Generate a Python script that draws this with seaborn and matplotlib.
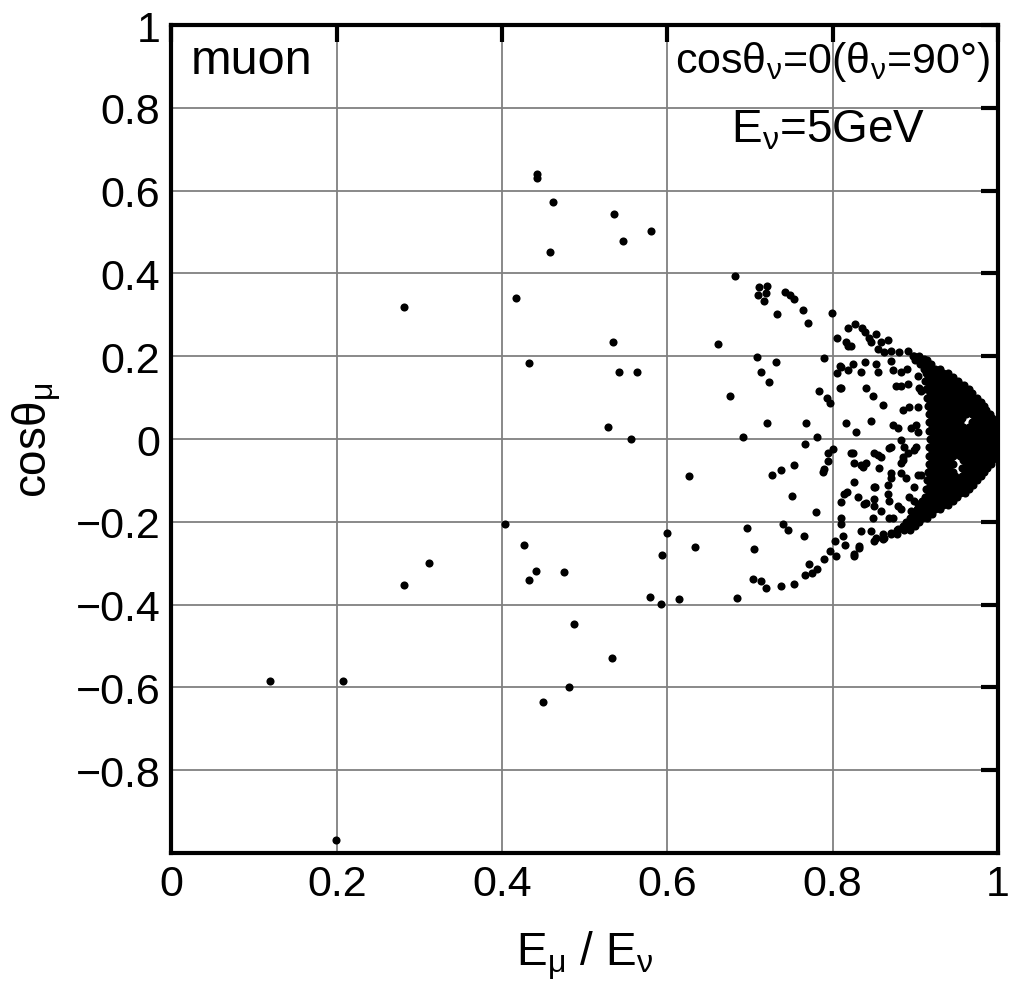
import numpy as np
import pandas as pd
import seaborn as sns
import matplotlib.pyplot as plt
from matplotlib.ticker import FixedLocator, FuncFormatter
from matplotlib import font_manager

# sparse events (left / middle part of the plot)
sparse_x = [0.442, 0.442, 0.462, 0.536, 0.580, 0.546, 0.458, 0.417, 0.281, 0.534, 0.433, 0.542, 0.563,
            0.528, 0.556, 0.404, 0.427, 0.312, 0.281, 0.441, 0.433, 0.475, 0.599, 0.594, 0.579, 0.592,
            0.614, 0.487, 0.533, 0.481, 0.450, 0.119, 0.208, 0.199]
sparse_y = [0.640, 0.630, 0.573, 0.543, 0.502, 0.479, 0.452, 0.340, 0.318, 0.234, 0.183, 0.163, 0.161,
            0.030, 0.000, -0.206, -0.256, -0.300, -0.353, -0.319, -0.340, -0.321, -0.227, -0.280, -0.381, -0.399,
            -0.387, -0.447, -0.529, -0.599, -0.635, -0.585, -0.585, -0.968]

# events between 0.62 and 0.82
mid_x = [0.682, 0.711, 0.721, 0.710, 0.719, 0.717, 0.742, 0.748, 0.753, 0.733, 0.764, 0.770, 0.799, 0.818,
         0.805, 0.816, 0.818, 0.661, 0.709, 0.732, 0.789, 0.809, 0.805, 0.818, 0.713, 0.723, 0.809, 0.676,
         0.783, 0.793, 0.797, 0.721, 0.768, 0.816, 0.691, 0.781, 0.766, 0.800, 0.794, 0.794, 0.822, 0.753,
         0.737, 0.726, 0.789, 0.788, 0.626, 0.817, 0.810, 0.751, 0.780, 0.810, 0.810, 0.696, 0.740, 0.746,
         0.634, 0.705, 0.765, 0.812, 0.803, 0.815, 0.797, 0.804, 0.789, 0.771, 0.781, 0.775, 0.766, 0.703,
         0.713, 0.719, 0.737, 0.753, 0.684]
mid_y = [0.393, 0.366, 0.369, 0.348, 0.352, 0.333, 0.354, 0.349, 0.338, 0.301, 0.311, 0.280, 0.304, 0.267,
         0.244, 0.234, 0.224, 0.229, 0.198, 0.185, 0.195, 0.176, 0.159, 0.166, 0.163, 0.137, 0.122, 0.105,
         0.117, 0.100, 0.088, 0.039, 0.039, 0.039, 0.005, 0.005, -0.012, -0.024, -0.034, -0.054, -0.034, -0.063,
         -0.076, -0.088, -0.073, -0.080, -0.090, -0.129, -0.151, -0.137, -0.176, -0.190, -0.205, -0.215, -0.205, -0.220,
         -0.261, -0.266, -0.234, -0.234, -0.246, -0.256, -0.271, -0.283, -0.290, -0.302, -0.315, -0.324, -0.329, -0.339,
         -0.344, -0.359, -0.354, -0.351, -0.385]

# events around the edge of the dense band
edge_x = [0.827, 0.836, 0.839, 0.844, 0.852, 0.822, 0.846, 0.858, 0.867, 0.855, 0.862, 0.870, 0.880, 0.891,
          0.898, 0.910, 0.810, 0.824, 0.834, 0.839, 0.852, 0.855, 0.870, 0.873, 0.883, 0.890, 0.903, 0.810,
          0.840, 0.849, 0.861, 0.877, 0.883, 0.891, 0.904, 0.907, 0.885, 0.892, 0.903, 0.846, 0.828, 0.873,
          0.879, 0.895, 0.901, 0.903,
          0.824, 0.826, 0.834, 0.840, 0.855, 0.858, 0.856, 0.870, 0.883, 0.886, 0.885, 0.891, 0.883, 0.901,
          0.826, 0.851, 0.867, 0.870, 0.883, 0.903, 0.814, 0.830, 0.840, 0.850, 0.850, 0.858, 0.867, 0.868,
          0.879, 0.883, 0.892, 0.898, 0.849, 0.868, 0.834, 0.846, 0.852, 0.861, 0.870, 0.879, 0.886, 0.895,
          0.826, 0.832,
          0.837, 0.850, 0.868, 0.898, 0.885, 0.870, 0.889, 0.907, 0.850, 0.898, 0.838, 0.903, 0.873, 0.895,
          0.861, 0.850, 0.832, 0.826]
edge_y = [0.278, 0.268, 0.258, 0.244, 0.254, 0.224, 0.234, 0.234, 0.239, 0.217, 0.210, 0.212, 0.210, 0.212,
          0.200, 0.193, 0.173, 0.180, 0.163, 0.185, 0.180, 0.163, 0.188, 0.166, 0.163, 0.168, 0.151, 0.124,
          0.124, 0.103, 0.083, 0.127, 0.129, 0.132, 0.124, 0.115, 0.071, 0.078, 0.078, 0.044, 0.017, 0.034,
          0.027, 0.027, 0.034, 0.017,
          -0.034, -0.059, -0.063, -0.059, -0.039, -0.044, -0.071, -0.020, -0.002, -0.020, -0.044, -0.034, -0.059, -0.020,
          -0.105, -0.115, -0.112, -0.083, -0.083, -0.088, -0.132, -0.141, -0.154, -0.144, -0.161, -0.173, -0.132, -0.149,
          -0.161, -0.168, -0.141, -0.149, -0.190, -0.190, -0.222, -0.222, -0.239, -0.229, -0.227, -0.217, -0.210, -0.202,
          -0.283, -0.263,
          -0.068, -0.034, -0.022, -0.027, -0.051, -0.093, -0.095, -0.088, -0.117, -0.117, -0.156, -0.156, -0.190, -0.173,
          -0.241, -0.246, -0.258, -0.278]

# dense core near E_mu/E_nu -> 1, read row by row
core_y = [0.20, 0.19, 0.18, 0.17, 0.16, 0.15, 0.14, 0.13, 0.12, 0.11, 0.10, 0.09, 0.08, 0.07, 0.06, 0.05,
          0.04, 0.03, 0.02, 0.01, 0.00, -0.01, -0.02, -0.03, -0.04, -0.05, -0.06, -0.07, -0.08, -0.09, -0.10,
          -0.11, -0.12, -0.13, -0.14, -0.15, -0.16, -0.17, -0.18, -0.19, -0.20, -0.21, -0.22, -0.23, -0.24]
core_x = [
    [0.897, 0.904],
    [0.900, 0.908, 0.914],
    [0.905, 0.912, 0.919],
    [0.910, 0.917, 0.924, 0.930],
    [0.913, 0.920, 0.927, 0.934, 0.939],
    [0.915, 0.922, 0.930, 0.937, 0.945],
    [0.912, 0.920, 0.928, 0.935, 0.943, 0.951],
    [0.917, 0.925, 0.932, 0.940, 0.947, 0.955, 0.959],
    [0.913, 0.921, 0.929, 0.936, 0.944, 0.951, 0.958, 0.965],
    [0.918, 0.926, 0.933, 0.940, 0.948, 0.955, 0.962, 0.969],
    [0.914, 0.922, 0.930, 0.937, 0.945, 0.952, 0.960, 0.967, 0.975],
    [0.918, 0.926, 0.933, 0.941, 0.948, 0.956, 0.963, 0.971, 0.979],
    [0.915, 0.922, 0.930, 0.937, 0.945, 0.952, 0.960, 0.967, 0.975, 0.983],
    [0.919, 0.926, 0.934, 0.941, 0.949, 0.956, 0.964, 0.971, 0.979, 0.986],
    [0.916, 0.923, 0.931, 0.938, 0.946, 0.953, 0.961, 0.968, 0.975, 0.983, 0.990],
    [0.920, 0.927, 0.935, 0.942, 0.950, 0.957, 0.972, 0.979, 0.986, 0.993],
    [0.916, 0.924, 0.931, 0.939, 0.946, 0.954, 0.969, 0.976, 0.983, 0.990, 0.996],
    [0.920, 0.928, 0.935, 0.943, 0.950, 0.958, 0.965, 0.973, 0.980, 0.988, 0.995],
    [0.917, 0.925, 0.932, 0.940, 0.947, 0.955, 0.962, 0.970, 0.977, 0.985, 0.992, 0.998],
    [0.921, 0.928, 0.936, 0.943, 0.951, 0.958, 0.966, 0.973, 0.981, 0.988, 0.996],
    [0.918, 0.925, 0.933, 0.940, 0.948, 0.955, 0.963, 0.970, 0.978, 0.985, 0.993, 0.999],
    [0.921, 0.929, 0.936, 0.944, 0.951, 0.959, 0.966, 0.974, 0.981, 0.989, 0.996],
    [0.917, 0.925, 0.932, 0.940, 0.947, 0.955, 0.962, 0.970, 0.977, 0.985, 0.992, 0.998],
    [0.920, 0.928, 0.935, 0.943, 0.950, 0.958, 0.966, 0.973, 0.981, 0.988, 0.995],
    [0.916, 0.924, 0.931, 0.939, 0.946, 0.954, 0.962, 0.969, 0.977, 0.984, 0.991, 0.997],
    [0.920, 0.927, 0.935, 0.942, 0.958, 0.965, 0.973, 0.980, 0.987, 0.993],
    [0.916, 0.923, 0.931, 0.938, 0.946, 0.961, 0.969, 0.976, 0.984, 0.991],
    [0.919, 0.926, 0.934, 0.941, 0.956, 0.964, 0.972, 0.979, 0.987],
    [0.915, 0.922, 0.930, 0.937, 0.945, 0.960, 0.968, 0.975, 0.983],
    [0.918, 0.926, 0.933, 0.941, 0.948, 0.956, 0.964, 0.971, 0.979],
    [0.914, 0.922, 0.929, 0.937, 0.944, 0.952, 0.960, 0.967, 0.975],
    [0.918, 0.925, 0.933, 0.940, 0.948, 0.955, 0.963, 0.970],
    [0.913, 0.921, 0.928, 0.936, 0.944, 0.951, 0.959, 0.965],
    [0.917, 0.924, 0.932, 0.939, 0.947, 0.954, 0.960],
    [0.912, 0.920, 0.927, 0.935, 0.943, 0.950],
    [0.908, 0.916, 0.923, 0.931, 0.938, 0.945],
    [0.905, 0.912, 0.920, 0.927, 0.934, 0.939],
    [0.902, 0.909, 0.916, 0.924, 0.930],
    [0.898, 0.906, 0.913, 0.920],
    [0.893, 0.901, 0.908, 0.914],
    [0.889, 0.897, 0.904],
    [0.885, 0.892, 0.899],
    [0.878, 0.886, 0.893],
    [0.870, 0.878],
    [0.862],
]

x_ticks = [0, 0.2, 0.4, 0.6, 0.8, 1]
y_ticks = [-0.8, -0.6, -0.4, -0.2, 0, 0.2, 0.4, 0.6, 0.8, 1]

xs = sparse_x + mid_x + edge_x
ys = sparse_y + mid_y + edge_y
for yv, row in zip(core_y, core_x):
    xs += row
    ys += [yv] * len(row)
df = pd.DataFrame({"ratio": xs, "cos_mu": ys})

sns.set_style("white")
avail = {f.name for f in font_manager.fontManager.ttflist}
fam = "Liberation Sans Narrow" if "Liberation Sans Narrow" in avail else "Liberation Sans"
plt.rcParams["font.family"] = [fam, "DejaVu Sans"]
plt.rcParams["mathtext.fontset"] = "custom"
plt.rcParams["mathtext.rm"] = fam
for key in ["text.color", "axes.labelcolor", "xtick.color", "ytick.color"]:
    plt.rcParams[key] = "black"

fig = plt.figure(figsize=(10.21, 10.04), dpi=100)
ax = fig.add_axes([0.1679, 0.1494, 0.8096, 0.8247])

sns.scatterplot(data=df, x="ratio", y="cos_mu", color="black", s=34, linewidth=0, ax=ax, zorder=3)

ax.set_xlim(0, 1)
ax.set_ylim(-1, 1)
ax.xaxis.set_major_locator(FixedLocator(x_ticks))
ax.yaxis.set_major_locator(FixedLocator(y_ticks))
fmt = FuncFormatter(lambda v, pos=None: ("%g" % round(v, 2)).replace("-", "\u2212"))
ax.xaxis.set_major_formatter(fmt)
ax.yaxis.set_major_formatter(fmt)
ax.grid(True, color="0.5", lw=1.3)
ax.set_axisbelow(True)
ax.tick_params(direction="in", length=12, width=3, labelsize=31, top=True, right=True,
               colors="black", pad=8)
for sp in ax.spines.values():
    sp.set_linewidth(3)
    sp.set_color("black")
    sp.set_zorder(5)

ax.set_xlabel(r"E$_\mathregular{\mu}$ / E$_\mathregular{\nu}$", fontsize=33, labelpad=18)
ax.set_ylabel(r"cos$\mathregular{\theta_{\mu}}$", fontsize=33, labelpad=8)

ax.text(0.023, 0.957, "muon", transform=ax.transAxes, fontsize=35, va="center", ha="left")
ax.text(0.990, 0.957, r"cos$\mathregular{\theta_{\nu}}$=0($\mathregular{\theta_{\nu}}$=90°)",
        transform=ax.transAxes, fontsize=31, va="center", ha="right")
ax.text(0.912, 0.874, r"E$_\mathregular{\nu}$=5GeV", transform=ax.transAxes, fontsize=33,
        va="center", ha="right")

fig.savefig("out.png", dpi=100)
